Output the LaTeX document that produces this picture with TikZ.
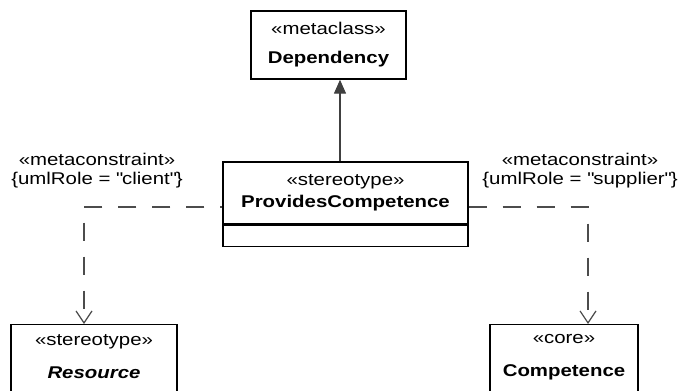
\documentclass[tikz,border=0pt]{standalone}
\usepackage{fontspec}
\setmainfont{Liberation Sans}[FakeStretch=1.2]
\usetikzlibrary{arrows.meta,calc}

\begin{document}
\begin{tikzpicture}[
  x=1pt,y=-1pt,
  font=\fontsize{17}{20}\selectfont,
  umlclass/.style={draw,line width=1.4pt,inner sep=0pt,align=center},
  umlopen/.style={umlclass,anchor=north,inner ysep=10pt,text depth=80pt},
  generalize/.style={-{Triangle[width=12pt,length=14pt]},line width=1.3pt,
    draw=black!75,fill=black!75},
  dependon/.style={-{Straight Barb[width=16pt,length=12pt]},line width=1.2pt,
    draw=black!70,dash pattern=on 18pt off 16pt},
  constraint/.style={inner sep=0pt,align=center}
]
  \clip (0,0) rectangle (683,391);

  \node[umlclass,minimum width=155,minimum height=68] (dep) at (328.5,45)
    {«metaclass»\\[9pt]\textbf{Dependency}};

  \node[umlclass,minimum width=245,minimum height=62] (pc) at (345.5,193)
    {«stereotype»\\[2pt]\textbf{ProvidesCompetence}};
  \node[umlclass,minimum width=245,minimum height=21,anchor=north] (pcattr)
    at (pc.south) {};

  \node[umlopen,minimum width=166] (res) at (94,324)
    {«stereotype»\\[13pt]\textbf{\textit{Resource}}};
  \node[umlopen,minimum width=148] (comp) at (564,324)
    {«core»\\[13pt]\textbf{Competence}};

  \node[constraint] (clientlbl) at (97,171)
    {«metaconstraint»\\[-1pt]\{umlRole = \textquotedbl client\textquotedbl\}};
  \node[constraint] (supplierlbl) at (580,171)
    {«metaconstraint»\\[-1pt]\{umlRole = \textquotedbl supplier\textquotedbl\}};

  \coordinate (genbase) at ([xshift=-5.5pt]pc.north);
  \draw[generalize] (genbase) -- (genbase |- dep.south);

  \coordinate (clientstart) at ([yshift=-14pt]pc.west);
  \coordinate (supplierstart) at ([yshift=-14pt]pc.east);
  \draw[dependon,dash phase=16pt] (clientstart) -| ([xshift=-10pt]res.north);
  \draw[dependon] (supplierstart) -| ([xshift=24pt]comp.north);
\end{tikzpicture}
\end{document}
